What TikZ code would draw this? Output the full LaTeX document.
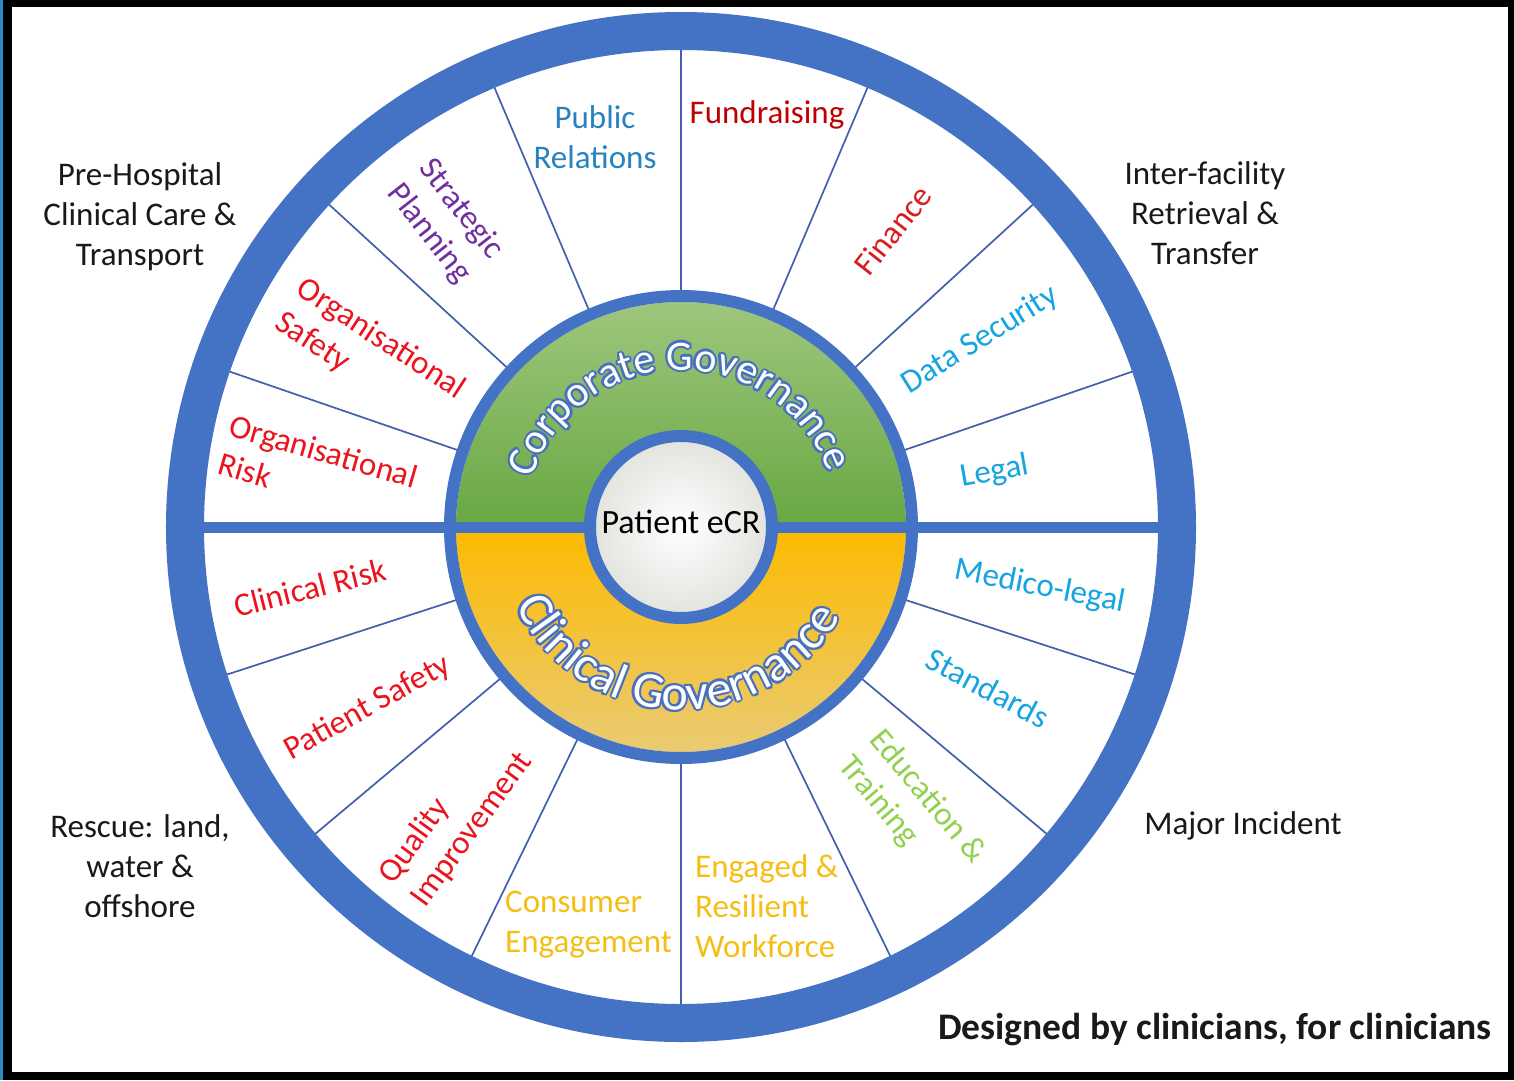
\documentclass[tikz,border=0pt]{standalone}
\usepackage{fontspec}
\setmainfont{Carlito}
\usetikzlibrary{decorations.text}
\definecolor{ringblue}{RGB}{68,114,196}
\definecolor{haloblue}{RGB}{72,112,190}
\definecolor{spokeblue}{RGB}{66,96,172}
\definecolor{edgeteal}{RGB}{45,140,190}
\definecolor{prblue}{RGB}{40,130,190}
\definecolor{darkred}{RGB}{192,0,0}
\definecolor{finred}{RGB}{215,30,30}
\definecolor{lblue}{RGB}{20,165,225}
\definecolor{lgreen}{RGB}{146,208,80}
\definecolor{goldtxt}{RGB}{245,190,20}
\definecolor{brightred}{RGB}{235,20,30}
\definecolor{purp}{RGB}{112,48,160}
\definecolor{greentop}{RGB}{158,198,125}
\definecolor{greenbot}{RGB}{104,168,66}
\definecolor{yellowtop}{RGB}{252,186,0}
\definecolor{yellowbot}{RGB}{234,203,115}
\definecolor{txtblack}{RGB}{25,25,25}
\definecolor{ecrgray}{RGB}{226,226,222}
\newcommand{\corpfont}{\fontsize{42}{42}\selectfont}
\newcommand{\clinfont}{\fontsize{50}{50}\selectfont}
\begin{document}
\begin{tikzpicture}[x=1pt,y=1pt,
  lab/.style={font=\fontsize{33}{40}\selectfont, inner sep=0pt, align=center},
  lableft/.style={lab, align=left},
  outlab/.style={lab, text=txtblack},
  spoke/.style={draw=spokeblue, line width=1.7pt},
]
\useasboundingbox (-681,-553) rectangle (833,527);
\fill[black] (-681,-553) rectangle (833,527);
\fill[edgeteal] (-681,-553) rectangle (-678,527);
\fill[white] (-669,-545) rectangle (827,520);

% spokes
\foreach \a in {19,42.5,67,90,113,137.5,161,198,220,244,270,296,320,342}
  \draw[spoke] (\a:234) -- (\a:482);

% outer ring
\draw[ringblue, line width=38pt] (0,0) circle[radius=496];

% governance halves
\path[top color=greentop, bottom color=greenbot] (225,0) arc (0:180:225) -- cycle;
\path[top color=yellowtop, bottom color=yellowbot] (-225,0) arc (180:360:225) -- cycle;
\draw[ringblue, line width=12pt] (0,0) circle[radius=231];

% horizontal bar
\draw[ringblue, line width=11pt] (-485,0) -- (485,0);

% centre circle
\draw[ringblue, line width=12pt, inner color=white, outer color=ecrgray] (0,0) circle[radius=91];
\node[lab, font=\fontsize{34}{40}\selectfont, text=black] (ecr) at (0,5) {Patient eCR};

% curved titles: blue halo, then white letters
\foreach \dx/\dy in {2.2/0,-2.2/0,0/2.2,0/-2.2,1.6/1.6,1.6/-1.6,-1.6/1.6,-1.6/-1.6}{
  \path[shift={(\dx,\dy)}, decorate, decoration={text along path, text align=center,
    text={|\corpfont\color{haloblue}|Corporate Governance}}] (181:157) arc (181:1:157);
  \path[shift={(\dx,\dy)}, decorate, decoration={text along path, text align=center,
    text={|\clinfont\color{haloblue}|Clinical Governance}}] (178:183) arc (178:358:183);
}
\path[decorate, decoration={text along path, text align=center,
  text={|\corpfont\color{white}|Corporate Governance}}] (181:157) arc (181:1:157);
\path[decorate, decoration={text along path, text align=center,
  text={|\clinfont\color{white}|Clinical Governance}}] (178:183) arc (178:358:183);

% sector labels, upper half
\node[lab, text=prblue] (pr) at (-86,390) {Public\\Relations};
\node[lab, text=darkred] (fund) at (86,412) {Fundraising};
\node[lab, text=finred, rotate=52] (fin) at (212,297) {Finance};
\node[lab, text=lblue, rotate=32] (datasec) at (299,187) {Data Security};
\node[lab, text=lblue, rotate=10] (legal) at (314,55) {Legal};
\node[lableft, text=brightred, rotate=-16] (orgrisk) at (-363,57) {Organisational\\Risk};
\node[lableft, text=brightred, rotate=-33] (orgsafe) at (-311,171) {Organisational\\Safety};
\node[lableft, text=purp, rotate=-52] (strat) at (-236,305) {Strategic\\Planning};

% sector labels, lower half
\node[lab, text=lblue, rotate=-11] (medico) at (359,-60) {Medico-legal};
\node[lab, text=lblue, rotate=-28] (stand) at (307,-161) {Standards};
\node[lableft, text=lgreen, rotate=-50] (edu) at (231,-283) {Education \&\\Training};
\node[lableft, text=goldtxt, anchor=west] (engaged) at (14,-379) {Engaged \&\\Resilient\\Workforce};
\node[lableft, text=goldtxt, anchor=west] (consumer) at (-176,-398) {Consumer\\Engagement};
\node[lableft, text=brightred, rotate=54] (quality) at (-225,-291) {Quality\\Improvement};
\node[lab, text=brightred, rotate=29] (patsafe) at (-313,-181) {Patient Safety};
\node[lab, text=brightred, rotate=14] (clinrisk) at (-371,-61) {Clinical Risk};

% outside labels
\node[outlab] (prehosp) at (-541,310) {Pre-Hospital\\Clinical Care \&\\Transport};
\node[outlab] (interfac) at (524,314) {Inter-facility\\Retrieval \&\\Transfer};
\node[outlab] (rescue) at (-541,-339) {Rescue: land,\\water \&\\offshore};
\node[outlab] (major) at (562,-299) {Major Incident};
\node[outlab, anchor=east, font=\fontsize{37.5}{40}\selectfont\bfseries] (designed) at (811,-503) {Designed by clinicians, for clinicians};
\end{tikzpicture}
\end{document}
